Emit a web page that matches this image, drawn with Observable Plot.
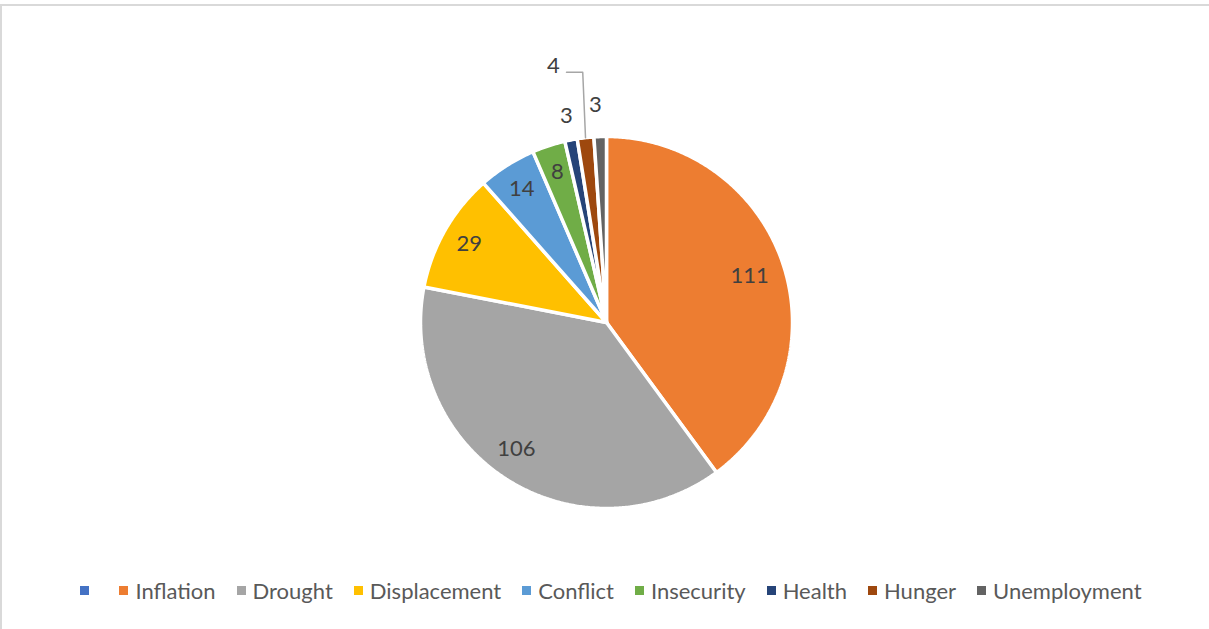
<!DOCTYPE html>
<html>
<head>
<meta charset="utf-8">
<script src="https://cdn.jsdelivr.net/npm/d3@7"></script>
<script src="https://cdn.jsdelivr.net/npm/@observablehq/plot@0.6"></script>
<style>
  html, body { margin: 0; padding: 0; background: #fff; }
  body { width: 1209px; height: 629px; position: relative; overflow: hidden; font-family: Lato, "Open Sans", sans-serif; }
  #frame { position: absolute; left: 0; top: 4px; width: 1300px; height: 700px; border-top: 2px solid #d9d9d9; border-left: 2px solid #d9d9d9; pointer-events: none; }
  #chart { position: absolute; left: 0; top: 0; }
  #chart svg { overflow: visible; }
  #legend { position: absolute; left: 0px; width: 1222px; top: 577px; display: flex; justify-content: center; align-items: center; gap: 21px; font-size: 22px; color: #595959; white-space: nowrap; }
  .item { display: flex; align-items: center; }
  .sw { width: 9px; height: 9px; margin-right: 7px; display: inline-block; }
  .blank { width: 2px; display: inline-block; }
</style>
</head>
<body>
<div id="chart"></div>
<div id="legend"></div>
<div id="frame"></div>
<script>
const categories = ["", "Inflation", "Drought", "Displacement", "Conflict", "Insecurity", "Health", "Hunger", "Unemployment"];
const values = [0, 111, 106, 29, 14, 8, 3, 4, 3];
const colors = ["#4472C4", "#ED7D31", "#A5A5A5", "#FFC000", "#5B9BD5", "#70AD47", "#264478", "#9E480E", "#636363"];

const total = d3.sum(values);
const slices = [];
let acc = 0;
categories.forEach((name, i) => {
  const a0 = acc / total * 2 * Math.PI;
  acc += values[i];
  const a1 = acc / total * 2 * Math.PI;
  slices.push({name, value: values[i], a0, a1, mid: (a0 + a1) / 2, color: colors[i]});
});

// polygon outline points for each slice (angle measured clockwise from top)
const pts = [];
for (const s of slices) {
  if (s.value <= 0) continue;
  pts.push({name: s.name, x: 0, y: 0});
  const n = Math.max(2, Math.ceil((s.a1 - s.a0) / (Math.PI / 360)));
  for (let k = 0; k <= n; k++) {
    const a = s.a0 + (s.a1 - s.a0) * k / n;
    pts.push({name: s.name, x: Math.sin(a), y: Math.cos(a)});
  }
  pts.push({name: s.name, x: 0, y: 0});
}

// labels: inside for large slices, outside for the smallest ones
const outside = new Set(["Health", "Hunger", "Unemployment"]);
const labels = slices.filter(s => s.value > 0).map(s => {
  let r = outside.has(s.name) ? 1.13 : (s.name === "Inflation" ? 0.81 : 0.85);
  let x = r * Math.sin(s.mid), y = r * Math.cos(s.mid);
  if (s.name === "Drought") { x -= 0.03; y += 0.04; }
  if (s.name === "Unemployment") { r = 1.17; x = r * Math.sin(s.mid) - 0.02; y = r * Math.cos(s.mid); }
  if (s.name === "Hunger") { x = -0.285; y = 1.38; }
  return {name: s.name, text: String(s.value), x, y};
});

// leader line for Hunger
const hunger = slices.find(s => s.name === "Hunger");
const leader = [
  {x: Math.sin(hunger.mid), y: Math.cos(hunger.mid)},
  {x: Math.sin(hunger.mid) - 0.015, y: 1.345},
  {x: -0.215, y: 1.345}
];

const plot = Plot.plot({
  width: 1209,
  height: 560,
  marginLeft: 420,
  marginRight: 417,
  marginTop: 136,
  marginBottom: 52,
  x: {domain: [-1, 1], axis: null},
  y: {domain: [-1, 1], axis: null},
  color: {domain: categories, range: colors},
  style: {background: "transparent"},
  marks: [
    Plot.line(pts, {x: "x", y: "y", z: "name", fill: "name", stroke: "white", strokeWidth: 3.5, strokeLinejoin: "miter", curve: "linear"}),
    Plot.line(leader, {x: "x", y: "y", stroke: "#a6a6a6", strokeWidth: 1.5}),
    Plot.text(labels, {x: "x", y: "y", text: "text", fill: "#404040", fontSize: 22, fontFamily: "Lato, 'Open Sans', sans-serif"})
  ]
});
document.getElementById("chart").appendChild(plot);

const legend = document.getElementById("legend");
categories.forEach((c, i) => {
  const item = document.createElement("div");
  item.className = "item";
  const sw = document.createElement("span");
  sw.className = "sw";
  sw.style.background = colors[i];
  item.appendChild(sw);
  const t = document.createElement("span");
  if (c === "") t.className = "blank";
  t.textContent = c;
  item.appendChild(t);
  legend.appendChild(item);
});
</script>
</body>
</html>
